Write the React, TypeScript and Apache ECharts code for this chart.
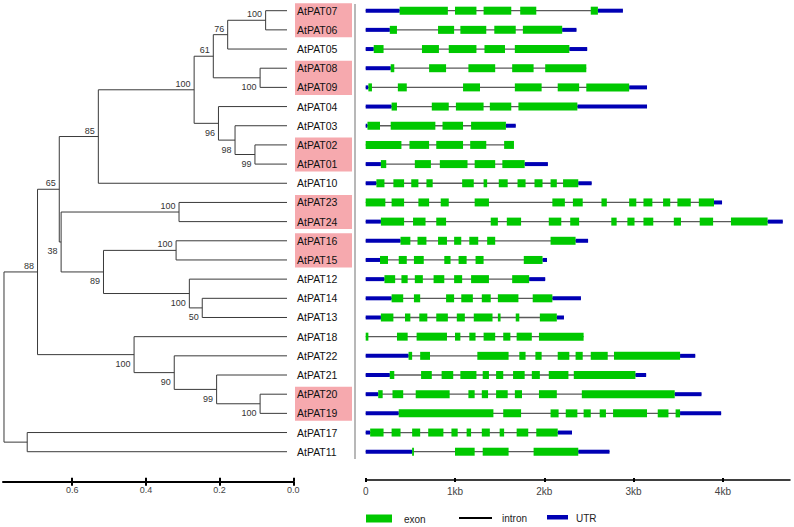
import React, { useEffect, useRef } from "react";
import * as echarts from "echarts";

// ---- Data ----
const leaves = [
  "AtPAT07", "AtPAT06", "AtPAT05", "AtPAT08", "AtPAT09", "AtPAT04", "AtPAT03", "AtPAT02",
  "AtPAT01", "AtPAT10", "AtPAT23", "AtPAT24", "AtPAT16", "AtPAT15", "AtPAT12", "AtPAT14",
  "AtPAT13", "AtPAT18", "AtPAT22", "AtPAT21", "AtPAT20", "AtPAT19", "AtPAT17", "AtPAT11",
];

// [clade id, upper child, lower child, distance from tips, bootstrap]
const clades: [string, string, string, number, number | null][] = [
  ["c0706", "AtPAT07", "AtPAT06", 0.058, 100],
  ["c05", "c0706", "AtPAT05", 0.161, 76],
  ["c0809", "AtPAT08", "AtPAT09", 0.073, 100],
  ["c61", "c05", "c0809", 0.2, 61],
  ["c0201", "AtPAT02", "AtPAT01", 0.087, 99],
  ["c03", "AtPAT03", "c0201", 0.141, 98],
  ["c04", "AtPAT04", "c03", 0.186, 96],
  ["cA", "c61", "c04", 0.252, 100],
  ["c10", "cA", "AtPAT10", 0.512, 85],
  ["c2324", "AtPAT23", "AtPAT24", 0.293, 100],
  ["c1615", "AtPAT16", "AtPAT15", 0.301, 100],
  ["c1413", "AtPAT14", "AtPAT13", 0.23, 50],
  ["c12", "AtPAT12", "c1413", 0.265, 100],
  ["c89", "c1615", "c12", 0.498, 89],
  ["c38", "c2324", "c89", 0.613, 38],
  ["c65", "c10", "c38", 0.618, 65],
  ["c2019", "AtPAT20", "AtPAT19", 0.073, 100],
  ["c21", "AtPAT21", "c2019", 0.191, 99],
  ["c22", "AtPAT22", "c21", 0.306, 90],
  ["c18", "AtPAT18", "c22", 0.415, 100],
  ["c88", "c65", "c18", 0.677, 88],
  ["c1711", "AtPAT17", "AtPAT11", 0.705, null],
  ["root", "c88", "c1711", 0.768, null],
];

const highlightPairs: [string, string][] = [
  ["AtPAT07", "AtPAT06"],
  ["AtPAT08", "AtPAT09"],
  ["AtPAT02", "AtPAT01"],
  ["AtPAT23", "AtPAT24"],
  ["AtPAT16", "AtPAT15"],
  ["AtPAT20", "AtPAT19"],
];

const treeScaleTicks = [0, 0.2, 0.4, 0.6];
const geneScaleTicks = [0, 1, 2, 3, 4];

// gene length in kb (same order as leaves)
const geneLengthKb = [
  2.88, 2.36, 2.48, 2.47, 3.15, 3.15, 1.68, 1.66, 2.04, 2.53, 3.99, 4.67,
  2.49, 2.03, 2.01, 2.41, 2.22, 2.44, 3.69, 3.14, 3.76, 3.98, 2.31, 2.73,
];

// exon [start, end] in kb (same order as leaves)
const exonsKb: number[][][] = [
  [[0.38, 0.92], [1.0, 1.24], [1.32, 1.63], [1.73, 1.91], [2.52, 2.6]],
  [[0.27, 0.35], [0.81, 0.99], [1.06, 1.35], [1.44, 1.68], [1.76, 2.2]],
  [[0.09, 0.2], [0.63, 0.82], [0.93, 1.24], [1.33, 1.56], [1.67, 2.28]],
  [[0.28, 0.32], [0.71, 0.9], [1.15, 1.45], [1.64, 1.88], [2.01, 2.47]],
  [[0.03, 0.07], [0.36, 0.46], [1.09, 1.28], [1.67, 1.97], [2.15, 2.39], [2.47, 2.95]],
  [[0.29, 0.35], [0.74, 0.93], [1.01, 1.32], [1.39, 1.63], [1.71, 2.37]],
  [[0.02, 0.16], [0.28, 0.78], [0.86, 1.09], [1.18, 1.57]],
  [[0, 0.4], [0.49, 0.71], [0.79, 1.09], [1.17, 1.35], [1.55, 1.66]],
  [[0.17, 0.23], [0.55, 0.73], [0.83, 1.14], [1.22, 1.45], [1.53, 1.78]],
  [[0.12, 0.21], [0.31, 0.43], [0.51, 0.59], [0.68, 0.75], [1.08, 1.21], [1.32, 1.36], [1.49, 1.59], [1.7, 1.79], [1.89, 1.98], [2.07, 2.14], [2.21, 2.38]],
  [[0, 0.22], [0.29, 0.43], [0.59, 0.71], [0.84, 0.93], [1.22, 1.38], [2.09, 2.23], [2.32, 2.43], [2.64, 2.7], [2.95, 3.03], [3.11, 3.21], [3.33, 3.41], [3.49, 3.64], [3.73, 3.9]],
  [[0.17, 0.43], [0.53, 0.67], [0.79, 0.9], [1.4, 1.48], [1.58, 1.74], [2.05, 2.19], [2.29, 2.39], [2.75, 2.81], [2.93, 3.01], [3.11, 3.22], [3.45, 3.53], [3.74, 3.89], [4.09, 4.5]],
  [[0.39, 0.5], [0.58, 0.68], [0.81, 0.91], [0.99, 1.07], [1.16, 1.26], [1.36, 1.45], [2.07, 2.35]],
  [[0.16, 0.25], [0.37, 0.46], [0.54, 0.65], [0.88, 0.95], [1.04, 1.13], [1.23, 1.32], [1.77, 1.98]],
  [[0.21, 0.33], [0.4, 0.47], [0.55, 0.64], [0.76, 0.88], [0.99, 1.08], [1.18, 1.38], [1.64, 1.83]],
  [[0.29, 0.42], [0.54, 0.61], [0.9, 0.99], [1.07, 1.2], [1.3, 1.4], [1.48, 1.71], [1.87, 2.09]],
  [[0.17, 0.31], [0.44, 0.5], [0.6, 0.69], [0.79, 0.92], [1.02, 1.11], [1.21, 1.42], [1.48, 1.51], [1.68, 1.72], [1.95, 2.14]],
  [[0, 0.03], [0.35, 0.47], [0.57, 0.91], [1.0, 1.06], [1.16, 1.23], [1.32, 1.45], [1.54, 1.62], [1.69, 1.86], [1.94, 2.44]],
  [[0.48, 0.52], [0.61, 0.72], [1.25, 1.6], [1.72, 1.79], [1.9, 1.97], [2.15, 2.28], [2.35, 2.43], [2.52, 2.71], [2.78, 3.52]],
  [[0.27, 0.32], [0.62, 0.74], [0.85, 0.98], [1.06, 1.24], [1.31, 1.38], [1.46, 1.54], [1.65, 1.78], [1.86, 1.95], [2.05, 2.27], [2.33, 3.02]],
  [[0.14, 0.19], [0.3, 0.42], [0.56, 0.94], [1.15, 1.22], [1.3, 1.37], [1.46, 1.59], [1.67, 1.75], [1.94, 2.14], [2.42, 3.46]],
  [[0.37, 1.43], [1.54, 1.74], [2.07, 2.16], [2.24, 2.37], [2.44, 2.52], [2.62, 2.69], [2.77, 3.15], [3.27, 3.39], [3.47, 3.52]],
  [[0.05, 0.2], [0.29, 0.39], [0.52, 0.61], [0.7, 0.87], [0.96, 1.03], [1.13, 1.18], [1.3, 1.39], [1.5, 1.55], [1.69, 1.82], [1.91, 2.15]],
  [[0.52, 0.54], [1.0, 1.22], [1.31, 1.6], [1.88, 2.38]],
];

// ---- Style ----
const FONT = '"Liberation Sans", Arial, Helvetica, sans-serif';
const EXON = "#00c800";
const UTR = "#0000b4";
const INTRON = "#5a5a5a";
const PINK = "#f6a9ae";
const TREE_LINE = "#3a3a3a";

export default function App() {
  const ref = useRef<HTMLDivElement>(null);

  useEffect(() => {
    if (!ref.current) return;
    const chart = echarts.init(ref.current, null, { renderer: "svg" });

    // tree layout (rows from leaf order, internal nodes at mid of children)
    const pos: Record<string, { d: number; y: number }> = {};
    leaves.forEach((n, i) => (pos[n] = { d: 0, y: i }));
    const isUpper: Record<string, boolean> = {};
    clades.forEach(([id, a, b, d]) => {
      pos[id] = { d, y: (pos[a].y + pos[b].y) / 2 };
    });
    clades.forEach(([id, a, b]) => {
      isUpper[a] = pos[a].y < pos[id].y;
      isUpper[b] = pos[b].y < pos[id].y;
    });

    const treeData = clades.map(([id]) => [pos[id].d, pos[id].y]);
    const leafData = leaves.map((_, i) => [0, i]);
    const pairData = highlightPairs.map(([a, b]) => [0, pos[a].y, pos[b].y]);

    const intronData = geneLengthKb.map((len, i) => [0, len, i]);
    const utrData: number[][] = [];
    const exonData: number[][] = [];
    exonsKb.forEach((ex, i) => {
      const first = ex[0][0];
      const last = ex[ex.length - 1][1];
      if (first > 0.001) utrData.push([0, first, i]);
      if (geneLengthKb[i] - last > 0.001) utrData.push([last, geneLengthKb[i], i]);
      ex.forEach(([s, e]) => exonData.push([s, e, i]));
    });

    const segRender = (h: number, color: string) => (params: any, api: any) => {
      const p0 = api.coord([api.value(0), api.value(2)]);
      const p1 = api.coord([api.value(1), api.value(2)]);
      return {
        type: "rect",
        shape: { x: p0[0], y: p0[1] - h / 2, width: Math.max(p1[0] - p0[0], 1.5), height: h },
        style: { fill: color },
      };
    };

    const gridBox = { top: 1.1, height: 460.2 };
    const yAx = (gi: number) => ({
      gridIndex: gi,
      type: "value",
      min: -0.5,
      max: 23.5,
      inverse: true,
      show: false,
    });

    const option: any = {
      animation: false,
      backgroundColor: "#ffffff",
      textStyle: { fontFamily: FONT },
      grid: [
        { left: 3, width: 284, ...gridBox },
        { left: 3, width: 290.3, ...gridBox },
        { left: 365.7, width: 424.3, ...gridBox },
      ],
      xAxis: [
        { gridIndex: 0, type: "value", min: 0, max: 0.7707, inverse: true, show: false },
        {
          gridIndex: 1,
          type: "value",
          min: 0,
          max: 0.7878,
          inverse: true,
          position: "bottom",
          offset: 20.4,
          axisLine: { show: true, onZero: false, lineStyle: { color: "#000", width: 2 } },
          axisTick: { show: true, customValues: treeScaleTicks, length: 4, lineStyle: { color: "#000", width: 2 } },
          axisLabel: {
            customValues: treeScaleTicks,
            formatter: (v: number) => v.toFixed(1),
            fontSize: 9,
            color: "#444",
            margin: 4,
            fontFamily: FONT,
          },
          splitLine: { show: false },
        },
        {
          gridIndex: 1,
          type: "value",
          min: 0,
          max: 0.7878,
          inverse: true,
          position: "bottom",
          offset: 20.4,
          axisLine: { show: false, onZero: false },
          axisTick: { show: true, inside: true, customValues: treeScaleTicks, length: 4, lineStyle: { color: "#000", width: 2 } },
          axisLabel: { show: false },
          splitLine: { show: false },
        },
        {
          gridIndex: 2,
          type: "value",
          min: 0,
          max: 4.751,
          position: "bottom",
          offset: 18.7,
          axisLine: { show: true, onZero: false, lineStyle: { color: "#000", width: 1.5 } },
          axisTick: { show: true, customValues: geneScaleTicks, length: 2, lineStyle: { color: "#000", width: 2 } },
          axisLabel: {
            customValues: geneScaleTicks,
            formatter: (v: number) => (v === 0 ? "0" : v + "kb"),
            fontSize: 10,
            color: "#444",
            margin: 6,
            fontFamily: FONT,
          },
          splitLine: { show: false },
        },
        {
          gridIndex: 2,
          type: "value",
          min: 0,
          max: 4.751,
          position: "bottom",
          offset: 18.7,
          axisLine: { show: false, onZero: false },
          axisTick: { show: true, inside: true, customValues: geneScaleTicks, length: 2, lineStyle: { color: "#000", width: 2 } },
          axisLabel: { show: false },
          splitLine: { show: false },
        },
      ],
      yAxis: [yAx(0), yAx(1), yAx(2)],
      series: [
        {
          type: "custom",
          name: "highlight",
          xAxisIndex: 0,
          yAxisIndex: 0,
          clip: false,
          silent: true,
          encode: { x: 0, y: [1, 2] },
          data: pairData,
          renderItem: (params: any, api: any) => {
            const a = api.coord([0, api.value(1)]);
            const b = api.coord([0, api.value(2)]);
            return {
              type: "rect",
              shape: { x: a[0] + 8, y: a[1] - 7.5, width: 57, height: b[1] - a[1] + 15 },
              style: { fill: PINK },
            };
          },
        },
        {
          type: "custom",
          name: "tree",
          xAxisIndex: 0,
          yAxisIndex: 0,
          clip: false,
          silent: true,
          encode: { x: 0, y: 1 },
          data: treeData,
          renderItem: (params: any, api: any) => {
            const [id, a, b, , bs] = clades[params.dataIndex];
            const n = api.coord([pos[id].d, pos[id].y]);
            const ca = api.coord([pos[a].d, pos[a].y]);
            const cb = api.coord([pos[b].d, pos[b].y]);
            const children: any[] = [
              {
                type: "polyline",
                shape: { points: [[ca[0], ca[1]], [n[0], ca[1]], [n[0], cb[1]], [cb[0], cb[1]]] },
                style: { stroke: TREE_LINE, lineWidth: 1, fill: null },
              },
            ];
            if (bs != null) {
              const up = isUpper[id];
              children.push({
                type: "text",
                x: n[0] - 3.5,
                y: n[1] + (up ? -6 : 9.5),
                style: {
                  text: String(bs),
                  fill: "#333",
                  fontSize: 9,
                  fontFamily: FONT,
                  align: "right",
                  verticalAlign: "middle",
                },
              });
            }
            return { type: "group", children };
          },
        },
        {
          type: "custom",
          name: "labels",
          xAxisIndex: 0,
          yAxisIndex: 0,
          clip: false,
          silent: true,
          encode: { x: 0, y: 1 },
          data: leafData,
          renderItem: (params: any, api: any) => {
            const p = api.coord([api.value(0), api.value(1)]);
            return {
              type: "text",
              x: p[0] + 10,
              y: p[1],
              style: {
                text: leaves[params.dataIndex],
                fill: "#111",
                fontSize: 10.5,
                fontFamily: FONT,
                align: "left",
                verticalAlign: "middle",
              },
            };
          },
        },
        {
          type: "custom",
          name: "intron",
          xAxisIndex: 3,
          yAxisIndex: 2,
          silent: true,
          encode: { x: [0, 1], y: 2 },
          data: intronData,
          renderItem: (params: any, api: any) => {
            const p0 = api.coord([api.value(0), api.value(2)]);
            const p1 = api.coord([api.value(1), api.value(2)]);
            return {
              type: "line",
              shape: { x1: p0[0], y1: p0[1], x2: p1[0], y2: p1[1] },
              style: { stroke: INTRON, lineWidth: 1.3 },
            };
          },
        },
        {
          type: "custom",
          name: "UTR",
          xAxisIndex: 3,
          yAxisIndex: 2,
          silent: true,
          encode: { x: [0, 1], y: 2 },
          data: utrData,
          renderItem: segRender(4, UTR),
        },
        {
          type: "custom",
          name: "exon",
          xAxisIndex: 3,
          yAxisIndex: 2,
          silent: true,
          encode: { x: [0, 1], y: 2 },
          data: exonData,
          renderItem: segRender(8, EXON),
        },
      ],
      graphic: [
        {
          type: "line",
          shape: { x1: 355, y1: 4, x2: 355, y2: 459 },
          style: { stroke: "#b8b8b8", lineWidth: 2 },
          silent: true,
        },
        { type: "rect", shape: { x: 366, y: 514.5, width: 26, height: 8 }, style: { fill: EXON } },
        {
          type: "text",
          x: 404,
          y: 519,
          style: { text: "exon", fill: "#222", fontSize: 10, fontFamily: FONT, verticalAlign: "middle" },
        },
        { type: "line", shape: { x1: 459, y1: 518, x2: 492, y2: 518 }, style: { stroke: "#000", lineWidth: 2 } },
        {
          type: "text",
          x: 502,
          y: 518,
          style: { text: "intron", fill: "#222", fontSize: 10, fontFamily: FONT, verticalAlign: "middle" },
        },
        { type: "rect", shape: { x: 547, y: 515, width: 21, height: 4.5 }, style: { fill: UTR } },
        {
          type: "text",
          x: 576,
          y: 518,
          style: { text: "UTR", fill: "#222", fontSize: 10, fontFamily: FONT, verticalAlign: "middle" },
        },
      ],
    };

    chart.setOption(option);
    return () => chart.dispose();
  }, []);

  return (
    <div
      ref={ref}
      style={{ position: "fixed", left: 0, top: 0, width: 794, height: 527, background: "#fff" }}
    />
  );
}
